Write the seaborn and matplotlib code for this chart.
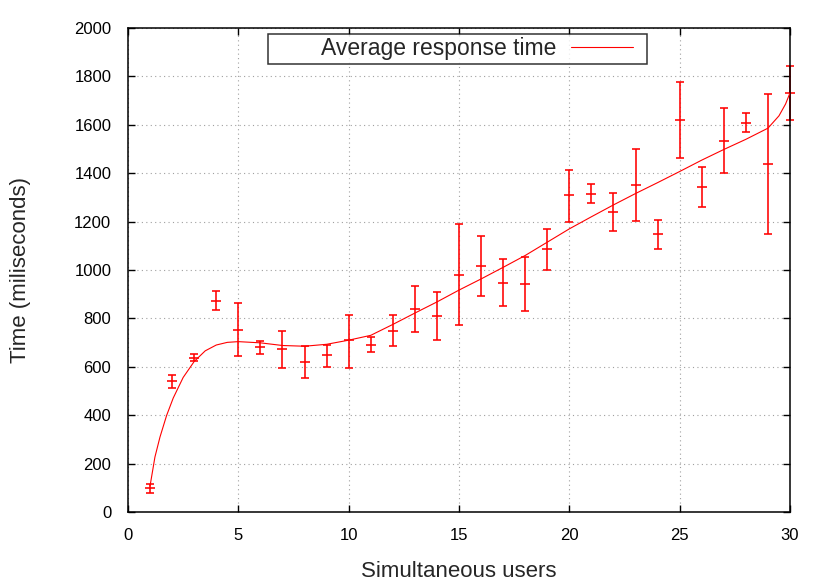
import numpy as np
import pandas as pd
import seaborn as sns
import matplotlib
matplotlib.use("Agg")
import matplotlib.pyplot as plt
from matplotlib.offsetbox import DrawingArea, HPacker

# measured response times (ms) per number of simultaneous users
users = list(range(1, 31))
mean_ms = [100, 541, 637, 873, 753, 680, 672, 621, 647, 709,
           690, 750, 838, 810, 981, 1017, 948, 941, 1086, 1308,
           1315, 1240, 1353, 1147, 1618, 1343, 1534, 1608, 1439, 1732]
low_ms = [80, 514, 623, 834, 644, 654, 594, 555, 601, 597,
          660, 687, 742, 712, 771, 894, 851, 830, 1000, 1200,
          1275, 1163, 1203, 1088, 1461, 1259, 1400, 1571, 1150, 1619]
high_ms = [117, 568, 651, 913, 863, 706, 750, 687, 692, 814,
           722, 815, 935, 908, 1192, 1142, 1044, 1052, 1171, 1413,
           1356, 1319, 1501, 1207, 1778, 1426, 1669, 1647, 1726, 1845]

# smoothed curve
curve_x = [1, 1.22, 1.45, 1.75, 2.05, 2.5, 3, 3.5, 4, 4.5, 5, 6, 7, 8, 9, 10,
           11, 12, 13, 14, 15, 16, 17, 18, 19, 20, 21, 22, 23, 24, 25,
           26, 27, 28, 29, 29.5, 29.8, 30]
curve_y = [108, 227, 310, 399, 471, 556, 622, 666, 690, 701, 704, 699, 688, 685, 693, 710,
           730, 775, 822, 868, 917, 963, 1011, 1060, 1115, 1170, 1220, 1269, 1316, 1361, 1407,
           1454, 1498, 1540, 1586, 1637, 1686, 1732]

sns.set_theme(style="ticks")
plt.rcParams["font.family"] = ["Liberation Sans", "DejaVu Sans"]

fig = plt.figure(figsize=(8.3, 5.81), dpi=100)
ax = fig.add_axes([128 / 830, 1 - 512 / 581, 662 / 830, 484 / 581])

df = pd.DataFrame({"users": users, "mean": mean_ms,
                   "lo": low_ms, "hi": high_ms})
curve = pd.DataFrame({"users": curve_x, "time": curve_y})

yerr = np.array([df["mean"] - df["lo"], df["hi"] - df["mean"]])
ax.errorbar(df["users"], df["mean"], yerr=yerr, fmt="none", ecolor="#ff0000",
            elinewidth=1.15, capsize=3.2, capthick=1.15, clip_on=False, zorder=2)
ax.plot(df["users"], df["mean"], ls="none", marker="_", ms=6.5, mew=1.15,
        color="#ff0000", clip_on=False, zorder=2)

sns.lineplot(data=curve, x="users", y="time", color="#ff0000", lw=0.8,
             ax=ax, label="Average response time", zorder=3)

ax.set_xlim(0, 30)
ax.set_ylim(0, 2000)
ax.set_xticks(range(0, 31, 5))
ax.set_yticks(range(0, 2001, 200))
ax.grid(True, color="#a0a0a0", ls=(0, (1, 3)), lw=0.8)
ax.tick_params(direction="in", length=5, width=1, top=True, right=True,
               labelsize=12, colors="black")
ax.tick_params(axis="y", pad=12)
ax.tick_params(axis="x", pad=11.5)
for sp in ax.spines.values():
    sp.set_color("black")
    sp.set_linewidth(1.1)

ax.set_xlabel("Simultaneous users", fontsize=16, labelpad=13)
ax.set_ylabel("Time (miliseconds)", fontsize=16, labelpad=31)

leg = ax.legend(loc="upper center", bbox_to_anchor=(0.4977, 0.9876),
                markerfirst=False, fontsize=16.5, frameon=True, fancybox=False,
                borderpad=0.15, handlelength=2.7, handletextpad=0.65,
                borderaxespad=0)
leg.get_frame().set_edgecolor("black")
leg.get_frame().set_linewidth(1.1)

# gnuplot-like key: wide space before the text, a little after the sample
item = leg._legend_handle_box.get_children()[0].get_children()[0]
txt, hnd = item.get_children()
inner = HPacker(pad=0, sep=0.65 * 16.5, align="baseline", children=[txt, hnd])
item._children = [DrawingArea(36, 0), inner, DrawingArea(7.5, 0)]
item.sep = 0

fig.savefig("out.png", dpi=100)
